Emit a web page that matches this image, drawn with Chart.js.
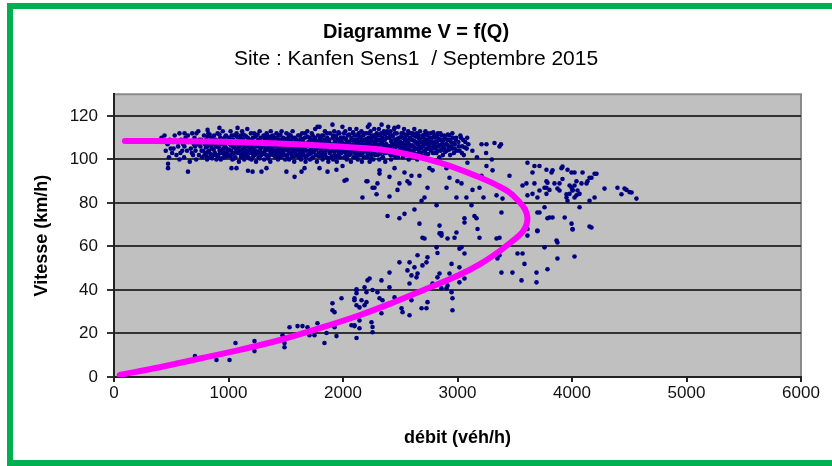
<!DOCTYPE html>
<html><head><meta charset="utf-8">
<script src="https://cdn.jsdelivr.net/npm/chart.js@4/dist/chart.umd.min.js"></script>
<style>
html,body{margin:0;padding:0;background:#fff;}
#wrap{position:relative;width:832px;height:466px;overflow:hidden;}
#frame{position:absolute;left:7px;top:3px;width:900px;height:451px;border:6px solid #00b050;pointer-events:none;}
canvas{position:absolute;left:0;top:0;}
</style></head><body>
<div id="wrap"><canvas id="c" width="832" height="466"></canvas><div id="frame"></div></div>
<script>
const chartTitle = 'Diagramme V = f(Q)';
const chartSubtitle = 'Site : Kanfen Sens1  / Septembre 2015';
const xTitle = 'débit (véh/h)';
const yTitle = 'Vitesse (km/h)';
const xTicks = [0,1000,2000,3000,4000,5000,6000];
const yTicks = [0,20,40,60,80,100,120];

// model curve V = f(Q) (magenta)
const curveQ = [95,600,1100,1600,2000,2400,2843,3192,3350,3450,3540,3590,3610,3602,3565,3480,3370,3200,3000,2750,2450,2150,1800,1450,1100,750,400,50];
const curveV = [108.5,108.4,107.9,107,105.8,104,98.6,91.8,88,85,80.5,77,73.5,70,66.5,62.5,58,52,46.5,41,34.5,28.5,22.5,17,12.5,8.5,4.5,1];

// measured points [Q, V]
const bandPts = [
[415,110],[441,111],[452,104],[468,107],[480,101],[488,109],[495,105],[472,98],
[508,103],[515,108],[530,111],[545,102],[560,106],[572,100],[585,109],[596,104],
[604,107],[612,101],[625,110],[638,104],[650,108],[662,99],[671,105],[683,112],[690,102],[698,107],
[703,110],[712,104],[718,100],[725,107],[736,113],[742,102],[755,106],[761,109],[770,101],[778,104],[786,111],[794,107],
[802,103],[806,109],[813,100],[818,106],[824,112],[830,104],[837,108],[842,101],[849,110],[855,105],[861,102],[868,107],[874,111],[881,103],[888,109],[895,100],
[902,106],[905,112],[911,102],[917,108],[922,104],[928,110],[933,100],[939,107],[944,103],[950,113],[955,105],[961,109],[967,101],[972,106],[978,111],[984,103],[990,108],[996,104],
[1003,110],[1008,102],[1013,107],[1018,113],[1023,104],[1029,109],[1034,100],[1039,106],[1044,111],[1049,103],[1055,108],[1060,101],[1065,105],[1070,112],[1075,107],[1081,103],[1086,110],[1091,99],[1095,106],[1099,109],
[1102,104],[1106,111],[1110,101],[1115,107],[1119,113],[1124,103],[1128,109],[1133,105],[1137,100],[1142,111],[1146,106],[1151,102],[1155,108],[1160,104],[1164,114],[1169,110],[1173,101],[1178,106],[1182,103],[1187,109],[1191,105],[1196,112],
[1201,100],[1205,107],[1209,103],[1214,110],[1218,105],[1223,112],[1227,102],[1232,108],[1236,104],[1241,99],[1245,111],[1250,106],[1254,103],[1259,109],[1263,101],[1268,107],[1272,113],[1277,104],[1281,110],[1286,102],[1290,106],[1295,108],
[1302,103],[1306,111],[1311,100],[1315,107],[1320,104],[1324,109],[1329,102],[1333,112],[1338,105],[1342,108],[1347,101],[1351,110],[1356,104],[1360,106],[1365,99],[1369,113],[1374,103],[1378,108],[1383,105],[1387,111],[1392,102],[1396,107],
[1401,104],[1405,110],[1410,101],[1414,106],[1419,112],[1423,103],[1428,108],[1432,100],[1437,105],[1441,111],[1446,103],[1450,109],[1455,106],[1459,101],[1464,113],[1468,104],[1473,107],[1477,110],[1482,102],[1486,105],[1491,108],[1495,100],
[1502,106],[1506,112],[1511,102],[1515,108],[1520,104],[1524,110],[1529,100],[1533,106],[1538,103],[1542,111],[1547,105],[1551,108],[1556,101],[1560,113],[1565,104],[1569,107],[1574,99],[1578,110],[1583,103],[1587,106],[1592,109],[1596,102],
[1603,105],[1608,111],[1613,101],[1618,107],[1623,103],[1628,109],[1633,100],[1638,105],[1643,112],[1648,104],[1653,108],[1658,102],[1663,106],[1668,110],[1673,99],[1678,104],[1683,107],[1688,113],[1693,102],[1698,108],
[1702,104],[1707,110],[1712,100],[1717,106],[1722,103],[1727,112],[1732,107],[1737,101],[1742,109],[1747,104],[1752,106],[1757,114],[1762,102],[1767,108],[1772,99],[1777,105],[1782,111],[1787,103],[1792,107],[1797,110],
[1802,102],[1807,108],[1812,105],[1817,111],[1822,100],[1827,106],[1832,103],[1837,109],[1842,113],[1847,104],[1852,107],[1857,101],[1862,110],[1867,105],[1872,99],[1877,108],[1882,103],[1887,112],[1892,106],[1897,101],
[1901,107],[1905,104],[1910,110],[1914,100],[1919,106],[1923,113],[1928,102],[1932,108],[1937,105],[1941,111],[1946,99],[1950,104],[1955,109],[1959,102],[1964,107],[1968,112],[1973,101],[1977,105],[1982,110],[1986,103],[1991,108],[1995,115],
[2002,104],[2006,110],[2011,101],[2015,107],[2020,113],[2024,103],[2029,109],[2033,100],[2038,106],[2042,111],[2047,104],[2051,108],[2056,102],[2060,114],[2065,106],[2069,99],[2074,110],[2078,104],[2083,107],[2087,112],[2092,101],[2096,109],
[2102,105],[2105,111],[2109,101],[2113,107],[2117,114],[2121,103],[2125,109],[2129,100],[2133,106],[2137,112],[2141,104],[2145,108],[2149,102],[2153,110],[2157,105],[2161,113],[2165,99],[2169,107],[2173,103],[2177,111],[2181,106],[2185,101],[2190,109],[2195,104],
[2202,112],[2205,106],[2209,101],[2213,108],[2217,115],[2221,103],[2225,110],[2229,105],[2233,99],[2237,107],[2241,113],[2245,102],[2249,109],[2253,104],[2257,111],[2261,106],[2265,100],[2269,108],[2273,114],[2277,103],[2281,110],[2285,105],[2290,107],[2295,112],
[2302,102],[2305,109],[2309,105],[2313,114],[2317,100],[2321,107],[2325,111],[2329,103],[2333,108],[2337,116],[2341,104],[2345,110],[2349,101],[2353,106],[2357,113],[2361,103],[2365,109],[2369,99],[2373,107],[2377,112],[2381,104],[2385,110],[2390,106],[2395,115],
[2402,103],[2406,110],[2411,106],[2415,113],[2420,100],[2424,108],[2429,104],[2433,111],[2438,102],[2442,107],[2447,114],[2451,105],[2456,109],[2460,101],[2465,106],[2469,112],[2474,103],[2478,108],[2483,115],[2487,104],[2492,110],[2496,106],
[2502,108],[2506,103],[2511,112],[2515,105],[2520,110],[2524,101],[2529,107],[2533,114],[2538,104],[2542,109],[2547,106],[2551,111],[2556,102],[2560,108],[2565,105],[2569,113],[2574,100],[2578,107],[2583,110],[2587,104],[2592,112],[2596,106],
[2603,109],[2608,104],[2613,111],[2618,106],[2623,114],[2628,102],[2633,108],[2638,105],[2643,112],[2648,100],[2653,107],[2658,110],[2663,103],[2668,109],[2673,113],[2678,105],[2683,108],[2688,102],[2693,111],[2698,106],
[2703,110],[2709,104],[2714,108],[2720,113],[2725,102],[2731,107],[2736,111],[2742,105],[2747,109],[2753,100],[2758,106],[2764,112],[2769,104],[2775,108],[2780,110],[2786,103],[2791,107],[2797,111],
[2804,105],[2810,110],[2816,103],[2822,108],[2829,112],[2835,106],[2841,101],[2847,109],[2853,104],[2860,111],[2866,107],[2872,102],[2878,109],[2884,105],[2891,110],[2897,107],
[2905,104],[2912,109],[2920,106],[2928,111],[2936,102],[2944,108],[2952,105],[2960,110],[2968,103],[2976,107],[2985,109],[2993,104],
[3008,108],[3018,104],[3030,110],[3042,106],[3055,102],[3068,108],[3080,105],[3095,107],
[3130,104],[3170,101],[3210,107],[3250,103],[3300,100],[3380,107]
];
const coreExtraPts = [
[520,105],[548,108],[580,103],[615,106],[645,111],[680,103],[708,106],[745,109],[765,104],[790,102],
[803,105.5],[809,101.5],[816,110.5],[822,103.5],[829,107.5],[835,111.5],[843,102.5],[850,106.5],[857,100.5],[864,109.5],[871,104.5],[879,108.5],[886,102],[893,106],
[904,108.5],[909,101],[915,105.5],[921,111.5],[927,103],[934,107.5],[941,100.5],[947,109.5],[953,104],[960,102.5],[966,107],[973,110.5],[981,105],[988,101.5],
[1004,104.5],[1010,108],[1016,101.5],[1022,106.5],[1028,111],[1035,102.5],[1041,109],[1047,105.5],[1053,100.5],[1060,107.5],[1067,103.5],[1073,110.5],[1080,105],[1088,108],
[1104,106.5],[1109,102],[1116,109.5],[1122,104.5],[1129,111.5],[1135,101.5],[1141,107],[1148,104],[1154,110.5],[1161,102.5],[1167,106],[1174,108.5],[1181,100.5],[1189,104],
[1203,109],[1209,105.5],[1216,101.5],[1222,107.5],[1228,104],[1235,110.5],[1241,102.5],[1247,106.5],[1254,111.5],[1260,103.5],[1267,108.5],[1273,100.5],[1280,105],[1288,107],
[1304,106],[1310,102.5],[1316,109.5],[1323,104.5],[1329,107],[1336,111],[1342,100.5],[1348,105.5],[1355,108.5],[1361,102],[1368,110.5],[1374,106.5],[1381,103.5],[1389,109],
[1403,102.5],[1408,107.5],[1415,104],[1421,110],[1427,106.5],[1434,101.5],[1440,108.5],[1447,104.5],[1453,111.5],[1460,106],[1466,102],[1473,109.5],[1480,103.5],[1488,107],
[1503,109.5],[1509,104.5],[1515,101],[1522,107],[1528,111.5],[1534,103],[1541,108.5],[1547,102.5],[1554,106.5],[1560,110],[1567,105.5],[1573,101.5],[1580,108],[1588,104],
[1604,102],[1610,108.5],[1617,104.5],[1623,111],[1629,106.5],[1636,101.5],[1642,109.5],[1649,103],[1655,107.5],[1661,105],[1668,112],[1675,101],[1682,106],[1690,110.5],
[1704,107.5],[1710,102.5],[1716,109],[1723,105],[1729,100.5],[1735,111],[1742,103.5],[1748,107],[1755,110],[1761,104.5],[1768,102],[1775,108.5],[1782,106],[1790,101.5],
[1804,109.5],[1810,104],[1816,107.5],[1823,101.5],[1829,111],[1835,105.5],[1842,102.5],[1848,108],[1855,104.5],[1861,112],[1868,106.5],[1874,100.5],[1881,109],[1889,103.5],
[1903,101.5],[1909,106.5],[1915,111],[1922,103.5],[1928,108.5],[1934,105],[1941,101],[1947,109.5],[1954,106],[1960,112.5],[1967,103],[1973,108],[1980,104.5],[1988,110],
[2004,107],[2009,112],[2016,103.5],[2022,109.5],[2028,105.5],[2035,101.5],[2041,108],[2047,104],[2054,111.5],[2060,106.5],[2067,102.5],[2073,109],[2080,105],[2088,112.5],
[2103,103],[2108,108.5],[2114,105],[2121,111],[2127,101.5],[2133,107.5],[2140,103.5],[2146,110.5],[2153,106.5],[2159,102],[2166,109],[2172,104.5],[2179,112],[2187,107],
[2203,104],[2208,109.5],[2214,102.5],[2220,106.5],[2227,112],[2233,104.5],[2239,108],[2246,100.5],[2252,110.5],[2259,103.5],[2265,106],[2272,111],[2279,102],[2287,108.5],
[2303,111],[2308,106],[2314,102.5],[2321,109],[2327,104.5],[2333,112],[2340,107.5],[2346,101],[2353,109.5],[2359,105],[2366,111.5],[2372,103],[2379,107],[2387,113],
[2404,106],[2409,111.5],[2415,102],[2422,108.5],[2428,104.5],[2434,110.5],[2441,106.5],[2447,102.5],[2454,112],[2460,107.5],[2467,104],[2473,109.5],[2480,101],[2488,106.5],
[2503,105],[2509,110.5],[2515,107.5],[2522,103],[2528,112],[2534,105.5],[2541,109.5],[2547,102.5],[2554,107],[2560,111.5],[2567,104],[2573,109],[2580,106],[2588,102],
[2604,106.5],[2610,112],[2616,103.5],[2623,108.5],[2629,105],[2635,110.5],[2642,102.5],[2648,107.5],[2655,111.5],[2661,104.5],[2668,106],[2674,109.5],[2681,103],[2689,108],
[2704,107],[2710,111.5],[2717,103.5],[2723,109],[2730,105],[2737,112],[2744,102.5],[2751,107.5],[2758,110],[2765,104.5],[2772,108],[2780,105.5],[2788,112.5],[2795,103],
[2806,108],[2813,106],[2820,111],[2828,104],[2835,109.5],[2843,106.5],[2851,112],[2859,104.5],[2867,108.5],[2875,106],[2884,111],[2893,103.5],
[2907,107],[2916,111.5],[2925,104.5],[2934,109],[2944,106],[2955,112],[2965,107.5],[2976,105],[2988,110],
[3012,106],[3025,111],[3038,103],[3050,109],[3065,105.5],[3085,110]
];
const edgePts = [
[472,96],[646,94.4],[1026,96],[1070,96],[1170,94.8],[1210,94.4],[1288,94.4],[1332,96],[1506,94.4],[1577,92],[1638,94.4],[1664,96],[1795,96],[1865,94.4],[1943,95.3],[2031,90.7],[1996,97],[2275,87],[2205,90],[2319,93.5],[2493,89],
[572,112],[616,112],[720,112],[817,113.6],[921,114.5],[1079,114.5],[1777,115],[1908,116],[2231,116],[1795,115],[2450,114.5],[3253,107],[3323,107.6],[3367,106]
];
const midPts = [
[2013,90.2],[2170,82.5],[2214,90],[2258,87],[2293,84],[2301,89],[2319,95],[2389,74],[2406,92],[2406,83],[2450,96],[2476,86],[2493,73],[2537,75],[2537,94],[2563,90],[2581,89],[2598,92.5],[2624,77],[2668,92.5],[2668,70.5],[2686,81],[2712,82.5],[2738,87],[2755,96],[2782,95],[2817,79],[2843,69.6],[2860,65],[2904,96],[2904,87],[2930,91.6],[2974,64],[2991,82.5],[3000,90],[3035,89],[3035,94.8],[3061,73],[3078,82.5],[3087,98.5],[3122,79],[3131,86],[3148,74],[3166,73],[3192,87],[3210,92.5],[3227,82.5],[3253,97],[3306,95],[3341,83.5],[3384,75.6],[3393,82],[3454,92.5],[3480,84],
[3611,98.5],[3655,94],[3672,89],[3698,82.5],[3716,97],[3716,75.6],[3760,87],[3777,90],[3786,73],[3803,86],[3830,95],[3847,89],[3873,86.6],[3908,96],[3917,91],[3952,84],[3961,81],[3979,88],[3996,94],[4005,86],[4022,82.5],[4039,90],[4066,78],[4092,94],[4127,89],[4153,91.6],[4197,93.4],[4197,82.5],[4284,86.6],[4397,87],[4459,86.6],[4502,85],[4563,82],[4432,84],
[3672,97],[3777,95.3],[3821,94],[3917,96.7],[3961,95.3],[4022,94],[4214,93.4],[4170,91.6],[4135,90],[4083,89],[4022,88],[4005,85.7],[3979,84.2],[3952,82.5],[3996,87],[4048,85.7],[4039,83.5],[4066,84.2],[3891,89],[3786,89.3],[3777,87],[3777,84.2],[3716,85.7],[3655,84.2],[3611,83.5],[3602,89],[3568,88],[3891,85.7],[4476,86],[4520,84.8],[4153,81],[3760,78],[3698,75.6],[3803,73.3],[3830,73.3],[3936,73.3],[3996,70.5],[4005,67.8],[4153,69.2],
[2694,64],[2843,66],[3367,64],[3611,68],[3698,67],[3865,62.7],[4005,68],[2860,66],[2712,63.7],[2913,63.7],[2991,66.4],[3061,71],[3175,68],[3192,64],[3341,63.7],[3035,59.6],[3017,59],[3061,56.8],[2817,59.6],[2825,57],[2651,56],[2738,55],[2729,52.7],[2694,51.3],[2493,52.7],[2581,52.7],[2624,50.4],[2563,49],[2598,46.7],[2642,45.8],[2651,47.6],[2406,48],[2581,43],[2406,41.2],[2336,44.4],[2232,45.3],[2214,44.4],[2188,41.2],[2118,39.9],[2118,38.5],[2205,39],[2258,40],[2301,39],[1987,36.2],[2100,35.3],[2162,35.3],[2205,34.4],[2319,36.2],[2345,35.3],[2118,33],[2144,32],[2188,33],[2450,36.6],[2511,31.6],[2520,29.8],[2598,35.3],[2686,31.6],[2729,31.6],[2738,34.4],[2581,28.4],[2336,29.3],[2144,26],[2074,23.8],[2100,23.4],[2144,22.4],[2249,25.2],[2258,23],[2258,20.6],[2118,17.9],[2782,43],[2843,47.6],[2825,45.8],[2930,47.6],[2948,52],[3017,50.4],[3061,45.3],[3017,43.5],[2860,40.8],[2904,40.8],[2913,42],[2948,39],[2956,36.2],[2956,30.7],[3349,54.5],[3367,56],[3384,48],[3480,48],[3524,56.8],[3568,56.8],[3585,52],[3559,44.4],[3690,43.5],[3690,48],[3760,59.6],[3786,49.5],[3873,54.5],[3873,61.8],[4022,55.4],[3602,68],[3611,65],[3698,67.3],[4170,68.7]
];
const lowPts = [
[707,9.6],[895,7.8],[1009,7.8],[1061,15.6],[1227,16.5],[1227,11.9],[1472,19.2],[1489,15.6],[1489,13.7],[1533,22.9],[1603,23.4],[1646,23.4],[1690,22.9],[1707,19.2],[1751,19.2],[1777,24.7],[1838,15.6],[1856,20.2],[1908,33.9],[1908,30.7],[1926,29.8],[1926,22.9],[1943,18.8],[2100,36.2],[2118,40.3],[2100,23.8]
];

const F = "'Liberation Sans', Arial, sans-serif";
const toXY = arr => arr.map(p => ({x: p[0], y: p[1]}));
const curveData = curveQ.map((q, i) => ({x: q, y: curveV[i]}));
const measured = toXY(bandPts.concat(coreExtraPts, edgePts, midPts, lowPts));

const plotBg = {
  id: 'plotBg',
  beforeDraw(chart) {
    const {ctx, chartArea: a} = chart;
    ctx.save();
    ctx.fillStyle = '#c0c0c0';
    ctx.fillRect(a.left, a.top, a.right - a.left, a.bottom - a.top);
    ctx.strokeStyle = '#8a8a8a';
    ctx.lineWidth = 2;
    ctx.beginPath();
    ctx.moveTo(a.left, a.top); ctx.lineTo(a.right, a.top); ctx.lineTo(a.right, a.bottom);
    ctx.stroke();
    ctx.restore();
  }
};

new Chart(document.getElementById('c'), {
  type: 'scatter',
  data: {
    datasets: [
      {label: 'modèle', data: curveData, showLine: true, borderColor: '#ff00ff', backgroundColor: '#ff00ff',
       borderWidth: 6, pointRadius: 0, tension: 0.4, fill: false, order: 0, borderCapStyle: 'round'},
      {label: 'mesures', data: measured, showLine: false, pointRadius: 2.3, pointBorderWidth: 0,
       pointBackgroundColor: '#000080', backgroundColor: '#000080', borderColor: '#000080', order: 1}
    ]
  },
  options: {
    responsive: false, animation: false,
    layout: {padding: {left: 31, right: 31, top: 0, bottom: 0}},
    plugins: {
      legend: {display: false}, tooltip: {enabled: false},
      title: {display: true, text: chartTitle, color: '#000', font: {family: F, size: 20, weight: 'bold', lineHeight: 1.2}, padding: {top: 20, bottom: 0}},
      subtitle: {display: true, text: chartSubtitle, color: '#000', font: {family: F, size: 21, lineHeight: 1.2}, padding: {top: 3, bottom: 22}}
    },
    scales: {
      x: {
        type: 'linear', min: 0, max: 6000,
        afterFit(s) { s.height = 89; },
        afterBuildTicks(s) { s.ticks = xTicks.map(v => ({value: v})); },
        ticks: {color: '#111', font: {family: F, size: 17}, padding: 1, callback: v => String(v), maxRotation: 0},
        grid: {drawOnChartArea: false, drawTicks: true, tickLength: 5, color: '#222', lineWidth: 2},
        border: {display: true, color: '#222', width: 2},
        title: {display: true, text: xTitle, color: '#000', font: {family: F, size: 18, weight: 'bold', lineHeight: 1.2}, padding: {top: 0, bottom: 17}}
      },
      y: {
        type: 'linear', min: 0, max: 130,
        afterFit(s) { s.width = 83; },
        afterBuildTicks(s) { s.ticks = yTicks.map(v => ({value: v})); },
        ticks: {color: '#111', font: {family: F, size: 17}, padding: 9, callback: v => String(v)},
        grid: {drawOnChartArea: true, drawTicks: true, tickLength: 7, color: '#333', lineWidth: 2},
        border: {display: true, color: '#222', width: 2},
        title: {display: true, text: yTitle, color: '#000', font: {family: F, size: 18, weight: 'bold', lineHeight: 1.2}, padding: {top: 0, bottom: 0}}
      }
    }
  },
  plugins: [plotBg]
});
</script>
</body></html>
